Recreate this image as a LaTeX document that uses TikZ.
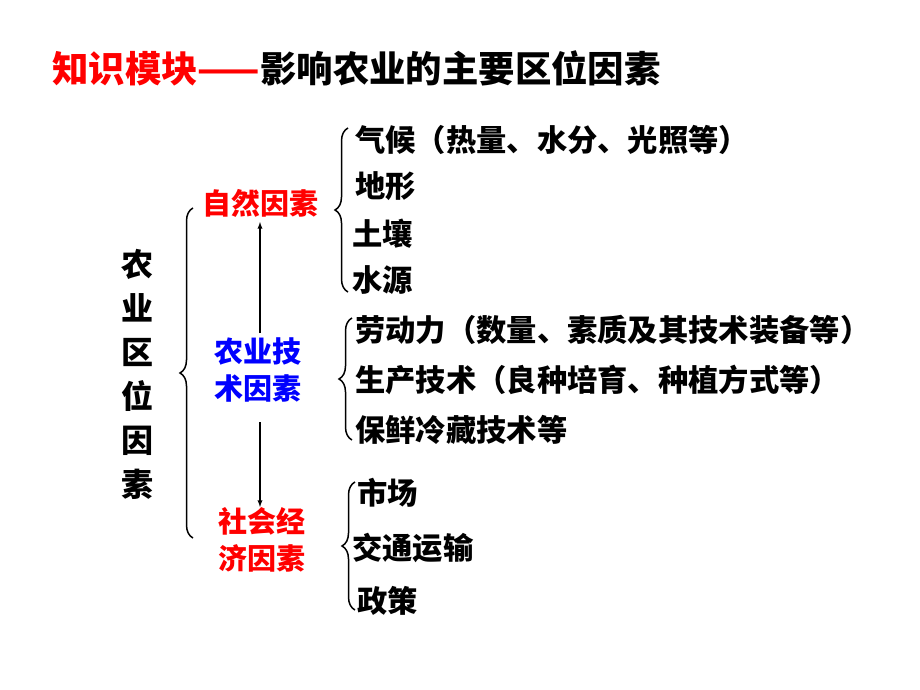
\documentclass[tikz,border=0pt]{standalone}
\usepackage{fontspec}
\setmainfont{Noto Sans CJK SC}
\usetikzlibrary{decorations.pathreplacing}
\begin{document}
\begin{tikzpicture}[x=1pt,y=-1pt,
  item/.style={anchor=west,font=\fontsize{30.3}{32}\selectfont\bfseries,inner sep=0pt},
  mid/.style={font=\fontsize{29}{37}\selectfont\bfseries,align=center,inner sep=0pt},
  br/.style={decorate,decoration={brace,amplitude=13pt,mirror},line width=1.5pt},
  arr/.style={-latex,line width=1.3pt}]
\useasboundingbox (0,0) rectangle (920,690);
\node[anchor=west,inner sep=0pt,font=\fontsize{36.4}{38}\selectfont\bfseries] (t) at (52,68) {\textcolor{red}{知识模块——}影响农业的主要区位因素};
\node[font=\fontsize{32}{44}\selectfont\bfseries,align=center,inner sep=0pt] (v) at (137,374) {农\\业\\区\\位\\因\\素};
\node[mid,text=red] (n1) at (260,203) {自然因素};
\node[mid,text=blue] (n2) at (258,370) {农业技\\术因素};
\node[mid,text=red] (n3) at (262,540) {社会经\\济因素};
\coordinate (a1) at (260,333); \coordinate (a2) at (260,222);
\coordinate (b1) at (260,422); \coordinate (b2) at (260,507);
\draw[arr] (a1) -- (a2);
\draw[arr] (b1) -- (b2);
\coordinate (L1) at (193,208); \coordinate (L2) at (193,538);
\draw[br] (L1) -- (L2);
\draw[br] (348,128) -- (348,292);
\draw[br] (352,318) -- (352,440);
\draw[br] (355,482) -- (355,610);
\node[item] (i1) at (355,140) {气候（热量、水分、光照等）};
\node[item] (i2) at (355,186) {地形};
\node[item] (i3) at (352,234) {土壤};
\node[item] (i4) at (352,280) {水源};
\node[item] (j1) at (355,330) {劳动力（数量、素质及其技术装备等）};
\node[item] (j2) at (355,380) {生产技术（良种培育、种植方式等）};
\node[item] (j3) at (355,430) {保鲜冷藏技术等};
\node[item] (k1) at (357,493) {市场};
\node[item] (k2) at (352,548) {交通运输};
\node[item] (k3) at (357,601) {政策};
\end{tikzpicture}
\end{document}
